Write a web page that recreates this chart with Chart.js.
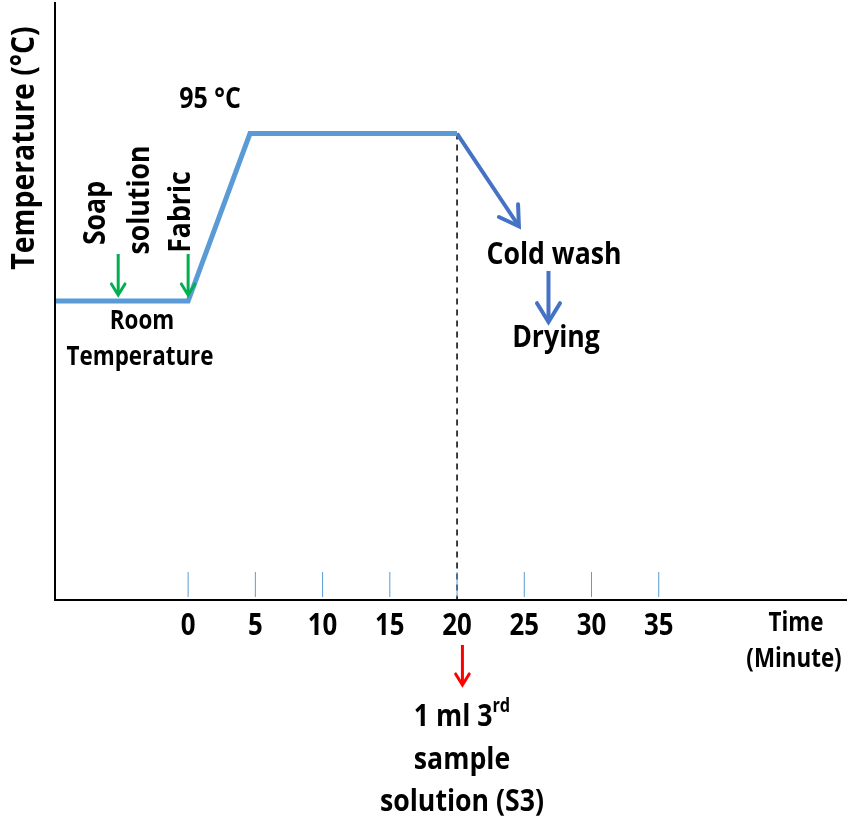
<!DOCTYPE html>
<html><head><meta charset="utf-8">
<script src="https://cdn.jsdelivr.net/npm/chart.js@4"></script>
<style>html,body{margin:0;padding:0;background:#fff}#w{width:852px;height:824px}</style>
</head><body><div id="w"><canvas id="c"></canvas></div>
<script>
const tickValues = [0, 5, 10, 15, 20, 25, 30, 35];
const tempX = [-9.9, 0, 4.6, 20];
const tempY = [50, 50, 78, 78];
const coolX = [20, 24.6];
const coolY = [78, 62.5];
const dryX = [26.8, 26.8];
const dryY = [55, 46.5];
const dashX = [20, 20];
const dashY = [78, 0];
const greenArrowX = [-5.2, 0];
const F = '"Open Sans",sans-serif';
const SQ = 0.86;

const pts = (xs, ys) => xs.map((x, i) => ({x, y: ys[i]}));

function arrowHead(ctx, x1, y1, x2, y2, size, color, lw) {
  const a = Math.atan2(y2 - y1, x2 - x1);
  ctx.save(); ctx.strokeStyle = color; ctx.lineWidth = lw; ctx.lineCap = 'round';
  ctx.beginPath();
  ctx.moveTo(x2 - size * Math.cos(a - 0.55), y2 - size * Math.sin(a - 0.55));
  ctx.lineTo(x2, y2);
  ctx.lineTo(x2 - size * Math.cos(a + 0.55), y2 - size * Math.sin(a + 0.55));
  ctx.stroke(); ctx.restore();
}
function text(ctx, s, x, y, size, rot) {
  ctx.save(); ctx.font = 'bold ' + size + 'px ' + F; ctx.fillStyle = '#000';
  ctx.textAlign = 'center'; ctx.textBaseline = 'middle';
  ctx.translate(x, y); if (rot) ctx.rotate(-Math.PI / 2);
  ctx.scale(SQ, 1);
  ctx.fillText(s, 0, 0); ctx.restore();
}

const deco = {
  id: 'deco',
  afterDatasetsDraw(chart) {
    const ctx = chart.ctx, xs = chart.scales.x, ys = chart.scales.y, a = chart.chartArea;
    ctx.save(); ctx.strokeStyle = '#000'; ctx.lineWidth = 2;
    ctx.beginPath(); ctx.moveTo(a.left, a.top); ctx.lineTo(a.left, a.bottom); ctx.lineTo(a.right, a.bottom); ctx.stroke();
    ctx.strokeStyle = '#5b9bd5'; ctx.lineWidth = 1;
    tickValues.forEach(v => { const px = xs.getPixelForValue(v); ctx.beginPath(); ctx.moveTo(px, a.bottom - 28); ctx.lineTo(px, a.bottom - 3); ctx.stroke(); });
    ctx.restore();
    tickValues.forEach(v => text(ctx, String(v), xs.getPixelForValue(v), a.bottom + 26, 30));
    arrowHead(ctx, xs.getPixelForValue(coolX[0]), ys.getPixelForValue(coolY[0]), xs.getPixelForValue(coolX[1]), ys.getPixelForValue(coolY[1]), 22, '#4472c4', 4);
    arrowHead(ctx, xs.getPixelForValue(dryX[0]), ys.getPixelForValue(dryY[0]), xs.getPixelForValue(dryX[1]), ys.getPixelForValue(dryY[1]), 22, '#4472c4', 4);
    greenArrowX.forEach(v => {
      const px = xs.getPixelForValue(v);
      ctx.save(); ctx.strokeStyle = '#00b050'; ctx.lineWidth = 3;
      ctx.beginPath(); ctx.moveTo(px, 254); ctx.lineTo(px, 294); ctx.stroke(); ctx.restore();
      arrowHead(ctx, px, 254, px, 295, 13, '#00b050', 3);
    });
    const rx = xs.getPixelForValue(20.4);
    ctx.save(); ctx.strokeStyle = '#ff0000'; ctx.lineWidth = 3;
    ctx.beginPath(); ctx.moveTo(rx, 645); ctx.lineTo(rx, 684); ctx.stroke(); ctx.restore();
    arrowHead(ctx, rx, 645, rx, 685, 13, '#ff0000', 3);
    text(ctx, 'Temperature (°C)', 25, 148, 33, true);
    text(ctx, '95 °C', 210, 100, 29);
    text(ctx, 'Soap', 96, 213, 31, true);
    text(ctx, 'solution', 140, 200, 31, true);
    text(ctx, 'Fabric', 181, 212, 31, true);
    text(ctx, 'Room', 142, 322, 26);
    text(ctx, 'Temperature', 140, 358, 26);
    text(ctx, 'Cold wash', 554, 255, 31);
    text(ctx, 'Drying', 556, 338, 31);
    text(ctx, 'Time', 796, 624, 26);
    text(ctx, '(Minute)', 794, 660, 26);
    ctx.save(); ctx.font = 'bold 31px ' + F; const w1 = ctx.measureText('1 ml 3').width * SQ; ctx.restore();
    ctx.save(); ctx.font = 'bold 19px ' + F; const w2 = ctx.measureText('rd').width * SQ; ctx.restore();
    const sx = 462 - (w1 + w2) / 2;
    ctx.save(); ctx.fillStyle = '#000'; ctx.textBaseline = 'middle'; ctx.textAlign = 'left';
    ctx.translate(sx, 0); ctx.scale(SQ, 1);
    ctx.font = 'bold 31px ' + F; ctx.fillText('1 ml 3', 0, 717);
    ctx.font = 'bold 19px ' + F; ctx.fillText('rd', w1 / SQ, 707); ctx.restore();
    text(ctx, 'sample', 462, 760, 31);
    text(ctx, 'solution (S3)', 462, 802, 31);
  }
};

new Chart(document.getElementById('c'), {
  type: 'scatter',
  data: { datasets: [
    { data: pts(tempX, tempY), showLine: true, borderColor: '#5b9bd5', borderWidth: 5, pointRadius: 0, fill: false },
    { data: pts(coolX, coolY), showLine: true, borderColor: '#4472c4', borderWidth: 4, pointRadius: 0 },
    { data: pts(dryX, dryY), showLine: true, borderColor: '#4472c4', borderWidth: 4, pointRadius: 0 },
    { data: pts(dashX, dashY), showLine: true, borderColor: '#000', borderWidth: 1.5, borderDash: [6, 5], pointRadius: 0 }
  ]},
  options: {
    responsive: true, maintainAspectRatio: false, animation: false,
    layout: { padding: { left: 55, right: 5, top: 2, bottom: 224 } },
    plugins: { legend: { display: false }, tooltip: { enabled: false } },
    scales: {
      x: { type: 'linear', min: -9.9, max: 49, display: false },
      y: { type: 'linear', min: 0, max: 100, display: false }
    }
  },
  plugins: [deco]
});
</script></body></html>
